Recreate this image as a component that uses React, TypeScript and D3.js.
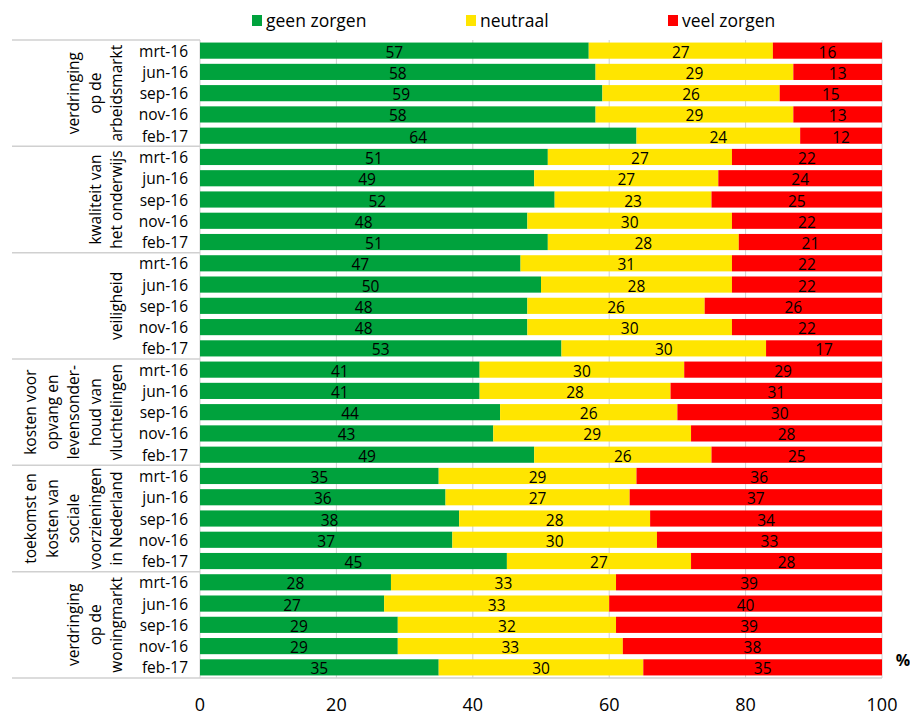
import React from "react";
import * as d3 from "d3";

const groups = [
  ["verdringing", "op de", "arbeidsmarkt"],
  ["kwaliteit van", "het onderwijs"],
  ["veiligheid"],
  ["kosten voor", "opvang en", "levensonder-", "houd van", "vluchtelingen"],
  ["toekomst en", "kosten van", "sociale", "voorzieningen", "in Nederland"],
  ["verdringing", "op de", "woningmarkt"],
];
const periods = ["mrt-16", "jun-16", "sep-16", "nov-16", "feb-17"];
const series = ["geen zorgen", "neutraal", "veel zorgen"];
const colors = ["#00a23d", "#ffe500", "#ff0000"];

const geenZorgen = [
  57, 58, 59, 58, 64,
  51, 49, 52, 48, 51,
  47, 50, 48, 48, 53,
  41, 41, 44, 43, 49,
  35, 36, 38, 37, 45,
  28, 27, 29, 29, 35,
];
const neutraal = [
  27, 29, 26, 29, 24,
  27, 27, 23, 30, 28,
  31, 28, 26, 30, 30,
  30, 28, 26, 29, 26,
  29, 27, 28, 30, 27,
  33, 33, 32, 33, 30,
];
const veelZorgen = [
  16, 13, 15, 13, 12,
  22, 24, 25, 22, 21,
  22, 22, 26, 22, 17,
  29, 31, 30, 28, 25,
  36, 37, 34, 33, 28,
  39, 40, 39, 38, 35,
];
const xTicks = [0, 20, 40, 60, 80, 100];

const FONT = "'Open Sans', 'Noto Sans', sans-serif";

export default function App() {
  const W = 910, H = 718;
  const left = 200, right = 882, top = 40, bottom = 678;
  const rows = d3.range(groups.length * periods.length);
  const x = d3.scaleLinear().domain([0, 100]).range([left, right]);
  const y = d3.scaleBand<number>().domain(rows).range([top, bottom]).paddingInner(0.24).paddingOuter(0.12);
  const step = y.step();
  const data = rows.map((i) => [geenZorgen[i], neutraal[i], veelZorgen[i]]);
  const groupH = step * periods.length;

  return (
    <svg width={W} height={H} style={{ position: "absolute", left: 0, top: 0, fontFamily: FONT }}>
      <rect width={W} height={H} fill="#fff" />
      {/* legend */}
      {series.map((s, i) => {
        const lx = [252, 466, 668][i];
        return (
          <g key={s}>
            <rect x={lx} y={15} width={10} height={11} fill={colors[i]} />
            <text x={lx + 14} y={20} fontSize={17.5} dominantBaseline="central" fill="#000">{s}</text>
          </g>
        );
      })}
      {/* gridlines */}
      {xTicks.map((t) => (
        <line key={t} x1={x(t)} x2={x(t)} y1={top} y2={bottom} stroke="#d0d0d0" strokeWidth={1} />
      ))}
      {/* group separators */}
      {d3.range(groups.length + 1).map((g) => (
        <line key={g} x1={12} x2={g === groups.length ? right : left} y1={top + g * groupH} y2={top + g * groupH} stroke="#d0d0d0" strokeWidth={1.5} />
      ))}
      {/* bars */}
      {data.map((vals, i) => {
        let acc = 0;
        return (
          <g key={i}>
            {vals.map((v, k) => {
              const x0 = acc;
              acc += v;
              return (
                <g key={k}>
                  <rect x={x(x0)} y={y(i)} width={x(x0 + v) - x(x0)} height={y.bandwidth()} fill={colors[k]} />
                  <text x={(x(x0) + x(x0 + v)) / 2} y={(y(i) as number) + y.bandwidth() / 2 + 1} textAnchor="middle" dominantBaseline="central" fontSize={15.5} fill="#000">{v}</text>
                </g>
              );
            })}
          </g>
        );
      })}
      {/* period labels */}
      {rows.map((i) => (
        <text key={i} x={188} y={(y(i) as number) + y.bandwidth() / 2} textAnchor="end" dominantBaseline="central" fontSize={15.5} fill="#000">{periods[i % periods.length]}</text>
      ))}
      {/* group labels */}
      {groups.map((lines, g) => {
        const cy = top + g * groupH + groupH / 2;
        return lines.map((ln, j) => {
          const lx = 116 - (lines.length - 1 - j) * 21.5;
          return (
            <text key={g + "-" + j} transform={`translate(${lx},${cy}) rotate(-90)`} textAnchor="middle" dominantBaseline="central" fontSize={15.5} fill="#000">{ln}</text>
          );
        });
      })}
      {/* x axis labels */}
      {xTicks.map((t) => (
        <text key={t} x={x(t)} y={704} textAnchor="middle" dominantBaseline="central" fontSize={18} fill="#000">{t}</text>
      ))}
      <text x={903} y={660} textAnchor="middle" dominantBaseline="central" fontSize={16} fontWeight="bold" fill="#000">%</text>
    </svg>
  );
}
